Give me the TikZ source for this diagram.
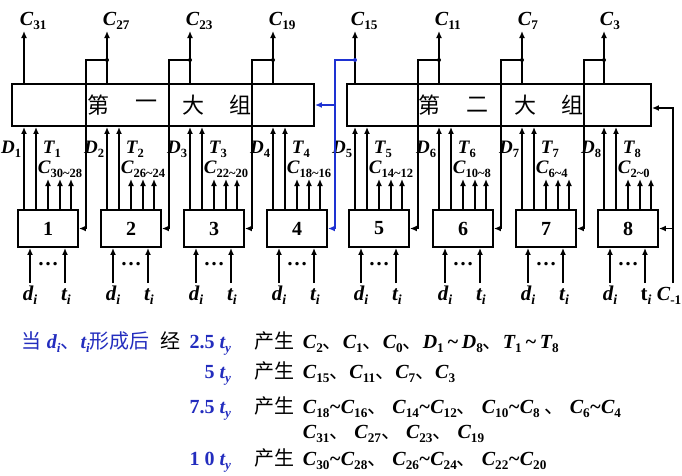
\documentclass[tikz,border=0pt]{standalone}
\usepackage{fontspec}
\setmainfont{Liberation Serif}
\newfontfamily\cjk{Noto Sans CJK SC}
\usetikzlibrary{arrows.meta}
\definecolor{lineblue}{RGB}{30,50,210}
\definecolor{txtblue}{RGB}{35,45,190}
\newcommand\sbs[1]{\raisebox{-0.22em}{\scalebox{0.66}{\upshape #1}}}
\newcommand\sbi[1]{\raisebox{-0.22em}{\scalebox{0.66}{#1}}}
\newcommand\tld{\textasciitilde}
\newcommand\dun{{\cjk\mdseries\upshape 、}}
\begin{document}
\begin{tikzpicture}[x=1pt,y=-1pt,line width=1.9pt,
  arr/.style={-{Latex[length=7pt,width=6pt]}},
  modbox/.style={draw,minimum width=60pt,minimum height=37pt,inner sep=0pt,font=\bfseries\fontsize{20}{20}\selectfont},
  grp/.style={draw,minimum height=42pt,inner sep=0pt},
  lab/.style={inner sep=0pt,font=\bfseries\itshape\fontsize{19}{19}\selectfont},
  toplab/.style={inner sep=0pt,font=\bfseries\itshape\fontsize{20}{20}\selectfont},
  han/.style={inner sep=0pt,font=\cjk\fontsize{22}{22}\selectfont},
  jdot/.style={circle,fill,inner sep=0pt,minimum size=4pt},
  txt/.style={inner sep=0pt,font=\fontsize{20}{20}\selectfont},
]
\useasboundingbox (0,0) rectangle (682,475);

% big groups
\node[grp,minimum width=302pt] (g1) at (163,105) {};
\node[grp,minimum width=304pt] (g2) at (499,105) {};
\node[han] at (98,105) {第};
\node[han] at (146,105) {一};
\node[han] at (193,105) {大};
\node[han] at (240,105) {组};
\node[han] at (429,105) {第};
\node[han] at (477,105) {二};
\node[han] at (525,105) {大};
\node[han] at (572,105) {组};

% modules
\foreach \i/\L/\g/\rng/\co in {1/18/g1/{30\tld28}/31,2/101/g1/{26\tld24}/27,3/184/g1/{22\tld20}/23,4/267/g1/{18\tld16}/19,5/349/g2/{14\tld12}/15,6/433/g2/{10\tld8}/11,7/516/g2/{6\tld4}/7,8/598/g2/{2\tld0}/3}{
  \node[modbox] (m\i) at (\L+30,228.5) {\i};
  \coordinate (xd\i) at (\L+6,0);
  \coordinate (xt\i) at (\L+18,0);
  \coordinate (xa\i) at (\L+12,283);
  \coordinate (xb\i) at (\L+47,283);
  \coordinate (top\i) at (\L+6,31);
  \draw[arr] (m\i.north -| xd\i) -- (\g.south -| xd\i);
  \draw[arr] (m\i.north -| xt\i) -- (\g.south -| xt\i);
  \foreach \k in {30,42,53} \draw[arr] (\L+\k,210) -- (\L+\k,179);
  \draw[arr] (xa\i) -- (m\i.south -| xa\i);
  \draw[arr] (xb\i) -- (m\i.south -| xb\i);
  \draw[arr] (\g.north -| top\i) -- (top\i);
  \node[toplab,anchor=base west] at (\L+1,25) {C\sbs{\co}};
  \node[lab,anchor=base east] at (\L+4,153) {D\sbs{\i}};
  \node[lab,anchor=base west] at (\L+24,153) {T\sbs{\i}};
  \node[lab,anchor=base west] at (\L+19,173) {C\sbs{\rng}};
  \node[lab,font=\bfseries\fontsize{21}{21}\selectfont] at (\L+30,264) {…};
  \node[lab,font=\bfseries\itshape\fontsize{21}{21}\selectfont,anchor=base] at (\L+12,300) {d\sbi{i}};
  \ifnum\i<8
    \node[lab,font=\bfseries\itshape\fontsize{21}{21}\selectfont,anchor=base] at (\L+48,300) {t\sbi{i}};
  \fi
}
\node[lab,font=\bfseries\fontsize{21}{21}\selectfont,anchor=base] at (646,300) {t\sbi{\itshape i}};
\node[lab,font=\bfseries\itshape\fontsize{20}{20}\selectfont,anchor=base west] at (656,300) {C\sbs{-1}};

% carry brackets
\foreach \i/\p/\x/\cx in {2/1/107/86,3/2/190/169,4/3/273/252,6/5/439/418,7/6/522/501,8/7/604/584}{
  \node[jdot] (j\i) at (\x,60) {};
  \draw[arr] (j\i.center) -- (\cx,60) -- (\cx,228.5) -- (m\p.east);
}
% C15 (blue)
\node[jdot,lineblue] (j5) at (355,60) {};
\coordinate (bq) at (335,105);
\draw[arr,lineblue] (j5.center) -- (335,60) -- (335,228.5) -- (m4.east);
\draw[arr,lineblue] (bq) -- (g1.east);
% C-1
\coordinate (cb) at (673,283);
\coordinate (cin) at (673,108);
\coordinate (cm) at (673,228.5);
\draw[arr] (cb) -- (cin) -- (cin -| g2.east);
\draw[arr] (cm) -- (m8.east);

% text lines
\node[txt,anchor=base west,text=txtblue] at (21,348) {{\cjk 当} \textbf{\itshape d\sbi{i}}\dun\textbf{\itshape t\sbi{i}}{\cjk 形成后}};
\node[txt,anchor=base east,text=txtblue] (n1) at (232,348) {\bfseries 2.5 {\itshape t\sbi{y}}};
\node[txt,anchor=base east] at ([xshift=-7pt]n1.base west) {\cjk 经};
\node[txt,anchor=base west] at (254,348) {\cjk 产生};
\node[txt,anchor=base west] at (302,348) {\bfseries\itshape C\sbs{2}\dun C\sbs{1}\dun C\sbs{0}\dun D\sbs{1}\,\tld\,D\sbs{8}\dun T\sbs{1}\,\tld\,T\sbs{8}};

\node[txt,anchor=base east,text=txtblue] at (232,378) {\bfseries 5 {\itshape t\sbi{y}}};
\node[txt,anchor=base west] at (254,378) {\cjk 产生};
\node[txt,anchor=base west] at (302,378) {\bfseries\itshape C\sbs{15}\dun C\sbs{11}\dun C\sbs{7}\dun C\sbs{3}};

\node[txt,anchor=base east,text=txtblue] at (232,413) {\bfseries 7.5 {\itshape t\sbi{y}}};
\node[txt,anchor=base west] at (254,413) {\cjk 产生};
\node[txt,anchor=base west] at (302,413) {\bfseries\itshape C\sbs{18}\tld C\sbs{16}\dun\ C\sbs{14}\tld C\sbs{12}\dun\ C\sbs{10}\tld C\sbs{8}\ \dun\ C\sbs{6}\tld C\sbs{4}};
\node[txt,anchor=base west] at (302,438) {\bfseries\itshape C\sbs{31}\dun\ C\sbs{27}\dun\ C\sbs{23}\dun\ C\sbs{19}};

\node[txt,anchor=base east,text=txtblue] at (232,465) {\bfseries 1 0 {\itshape t\sbi{y}}};
\node[txt,anchor=base west] at (254,465) {\cjk 产生};
\node[txt,anchor=base west] at (302,465) {\bfseries\itshape C\sbs{30}\tld C\sbs{28}\dun\ C\sbs{26}\tld C\sbs{24}\dun\ C\sbs{22}\tld C\sbs{20}};
\end{tikzpicture}
\end{document}
